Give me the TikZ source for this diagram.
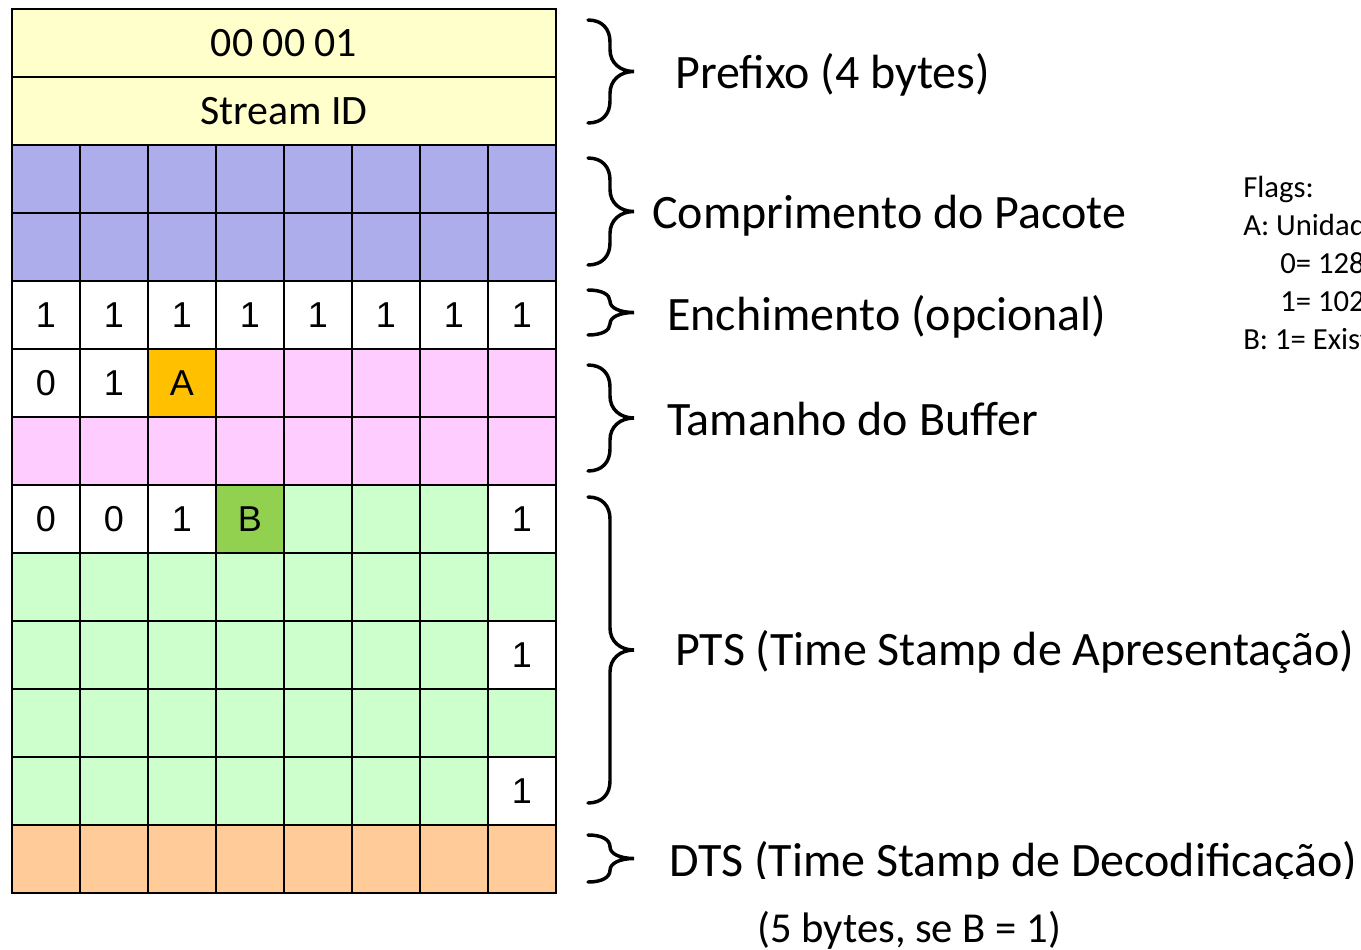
\documentclass[tikz,border=0pt]{standalone}
\usepackage{fontspec}
\setmainfont{Carlito}
\newfontfamily\cellfont{Liberation Sans}
\definecolor{cyellow}{HTML}{FFFFCC}
\definecolor{clav}{HTML}{ADADEB}
\definecolor{cpink}{HTML}{FFCCFF}
\definecolor{cgreen}{HTML}{CCFFCC}
\definecolor{corange}{HTML}{FFC000}
\definecolor{cbgreen}{HTML}{92D050}
\definecolor{cpeach}{HTML}{FFCC99}
\newcommand\emptycell{}
\begin{document}
\begin{tikzpicture}[x=0.75pt,y=-0.75pt,
  cell/.style={draw=black, line width=1.8pt, minimum width=51pt, minimum height=51pt, inner sep=0pt, font=\cellfont\fontsize{27}{27}\selectfont},
  wide/.style={draw=black, line width=1.8pt, minimum width=408pt, minimum height=51pt, inner sep=0pt, fill=cyellow, font=\fontsize{31.4}{32}\selectfont},
  lbl/.style={anchor=base west, inner sep=0pt, font=\fontsize{36}{37}\selectfont},
  flag/.style={anchor=base west, inner sep=0pt, font=\fontsize{23}{24}\selectfont},
  bracestyle/.style={line width=2.6pt, line cap=round}]
\useasboundingbox (0,0) rectangle (1361,950);
\newcommand\cellrow[2]{%
  \foreach \f/\t [count=\c from 0] in {#2} {
    \node[cell, fill=\f] (r#1c\c) at ({46+68*\c},{43+68*#1}) {\t};
  }}
% header rows
\node[wide] (prefA) at (284,43) {00 00 01};
\node[wide] (prefB) at (284,111) {Stream ID};
% grid rows
\cellrow{2}{clav/\emptycell,clav/\emptycell,clav/\emptycell,clav/\emptycell,clav/\emptycell,clav/\emptycell,clav/\emptycell,clav/\emptycell}
\cellrow{3}{clav/\emptycell,clav/\emptycell,clav/\emptycell,clav/\emptycell,clav/\emptycell,clav/\emptycell,clav/\emptycell,clav/\emptycell}
\cellrow{4}{white/1,white/1,white/1,white/1,white/1,white/1,white/1,white/1}
\cellrow{5}{white/0,white/1,corange/A,cpink/\emptycell,cpink/\emptycell,cpink/\emptycell,cpink/\emptycell,cpink/\emptycell}
\cellrow{6}{cpink/\emptycell,cpink/\emptycell,cpink/\emptycell,cpink/\emptycell,cpink/\emptycell,cpink/\emptycell,cpink/\emptycell,cpink/\emptycell}
\cellrow{7}{white/0,white/0,white/1,cbgreen/B,cgreen/\emptycell,cgreen/\emptycell,cgreen/\emptycell,white/1}
\cellrow{8}{cgreen/\emptycell,cgreen/\emptycell,cgreen/\emptycell,cgreen/\emptycell,cgreen/\emptycell,cgreen/\emptycell,cgreen/\emptycell,cgreen/\emptycell}
\cellrow{9}{cgreen/\emptycell,cgreen/\emptycell,cgreen/\emptycell,cgreen/\emptycell,cgreen/\emptycell,cgreen/\emptycell,cgreen/\emptycell,white/1}
\cellrow{10}{cgreen/\emptycell,cgreen/\emptycell,cgreen/\emptycell,cgreen/\emptycell,cgreen/\emptycell,cgreen/\emptycell,cgreen/\emptycell,cgreen/\emptycell}
\cellrow{11}{cgreen/\emptycell,cgreen/\emptycell,cgreen/\emptycell,cgreen/\emptycell,cgreen/\emptycell,cgreen/\emptycell,cgreen/\emptycell,white/1}
\cellrow{12}{cpeach/\emptycell,cpeach/\emptycell,cpeach/\emptycell,cpeach/\emptycell,cpeach/\emptycell,cpeach/\emptycell,cpeach/\emptycell,cpeach/\emptycell}
% braces
\foreach \T/\B in {20/123,158/265,290/335,365/471,497/803,835/882} {
  \pgfmathsetmacro\mm{(\T+\B)/2}
  \pgfmathsetmacro\rr{min(22,(\B-\T)/4)}
  \draw[bracestyle] (588,\T) .. controls (602,\T) and (610,{\T+0.4*\rr}) .. (610,{\T+\rr})
    -- (610,{\mm-\rr}) .. controls (610,{\mm-0.4*\rr}) and (620,\mm) .. (634,\mm)
    .. controls (620,\mm) and (610,{\mm+0.4*\rr}) .. (610,{\mm+\rr})
    -- (610,{\B-\rr}) .. controls (610,{\B-0.4*\rr}) and (602,\B) .. (588,\B);
}
% labels
\node[lbl] (prefixo) at (675,88) {Prefixo (4 bytes)};
\node[lbl] (compr) at (652,228) {Comprimento do Pacote};
\node[lbl] (ench) at (667,330) {Enchimento (opcional)};
\node[lbl] (tam) at (667,435) {Tamanho do Buffer};
\node[lbl] (pts) at (675,665) {PTS (Time Stamp de Apresentação)};
\begin{scope}
  \clip (0,0) rectangle (1361,878);
  \node[lbl] (dts) at (669,876) {DTS (Time Stamp de Decodificação)};
\end{scope}
\node[lbl, font=\fontsize{32}{33}\selectfont] (note) at (757,942) {(5 bytes, se B = 1)};
\begin{scope}
  \clip (0,0) rectangle (1361,950);
  \node[flag] (fl0) at (1243,197) {Flags:};
  \node[flag] (fl1) at (1243,235) {A: Unidade};
  \node[flag] (fl2) at (1280,273) {0= 128};
  \node[flag] (fl3) at (1280,311) {1= 1024};
  \node[flag] (fl4) at (1243,349) {B: 1= Existe};
\end{scope}
\end{tikzpicture}
\end{document}
